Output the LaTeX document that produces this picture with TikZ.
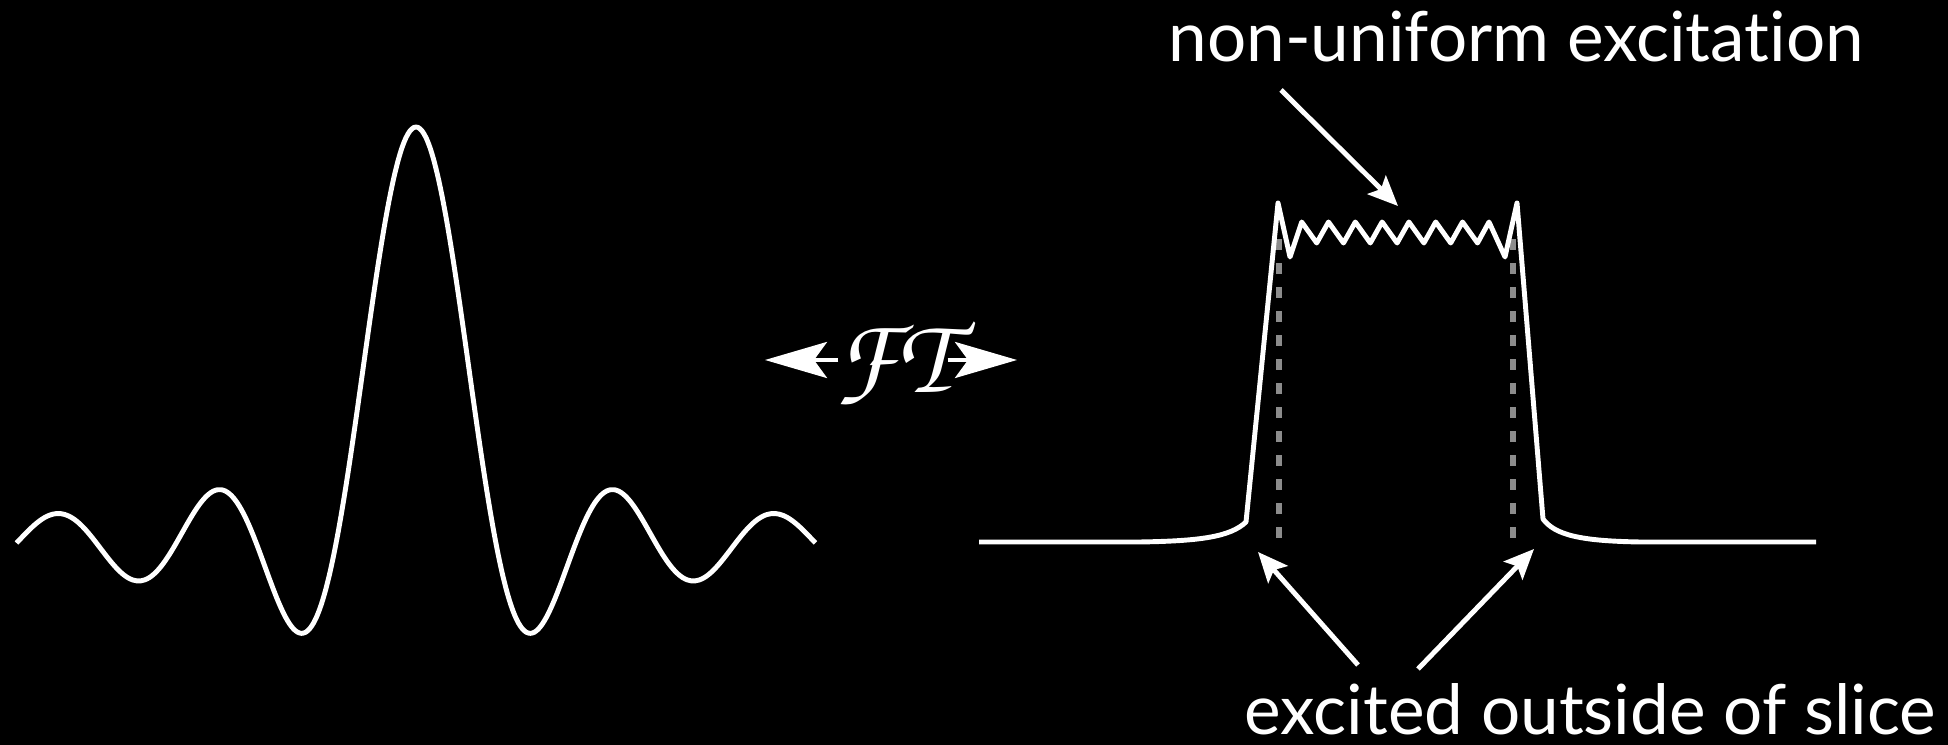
\documentclass[tikz,border=0pt]{standalone}
\usepackage{fontspec}
\setmainfont{Lato}[Ligatures=NoCommon]
\usetikzlibrary{arrows.meta}

\definecolor{dashgray}{RGB}{140,140,140}

\begin{document}
\begin{tikzpicture}[every node/.style={text=white, font=\fontsize{19.7}{23}\selectfont},
	curve/.style={white, line width=1.4pt, line join=round},
	pointer/.style={white, line width=1.4pt, -{Stealth[length=3mm, width=2.6mm, inset=0.6mm]}},
	ftarrow/.style={white, line width=1.2pt, -{Stealth[length=6.2mm, width=3.6mm, inset=1.3mm]}},
	slicemark/.style={dashgray, line width=1.7pt, dash pattern=on 1.1mm off 1.3mm}]
	\fill[black] (0,0) rectangle (19.48,7.45);
	\useasboundingbox (0,0) rectangle (19.48,7.45);
	\begin{scope}
		\draw[curve, domain=-5:5, samples=200, smooth] plot ({4.16+0.799*\x}, {2.02+4.16*sin(180*\x)/(pi*\x)});
	\end{scope}
	\node[inner sep=0, font=\fontencoding{OT1}\fontfamily{pzc}\fontseries{mb}\fontshape{it}\fontsize{31}{34}\selectfont] (ft) at (8.93,3.82) {FT};
	\coordinate (ftleft) at (7.65,3.85);
	\coordinate (ftright) at (10.17,3.85);
	\draw[ftarrow] ([xshift=0.5mm]ft.west |- ftleft) -- (ftleft);
	\draw[ftarrow] ([xshift=-0.5mm]ft.east |- ftright) -- (ftright);
	\begin{scope}
		\draw[slicemark] (12.79,2.07) -- (12.79,5.10);
		\draw[slicemark] (15.13,2.07) -- (15.13,5.10);
		\draw[curve] (9.79,2.03) -- (11.4,2.03) .. controls (12.0,2.04) and (12.3,2.08) .. (12.46,2.23) -- (12.78,5.42) -- (12.90,4.88)
			\foreach \k in {0,...,6} { -- ({13.017+0.268*\k},5.23) -- ({13.167+0.268*\k},5.02) }
			-- (14.89,5.23) -- (15.05,4.88) -- (15.17,5.42) -- (15.43,2.26) .. controls (15.55,2.10) and (15.8,2.04) .. (16.4,2.03) -- (18.16,2.03);
	\end{scope}
	\node[anchor=base west, inner sep=0] (excite) at (11.68,6.83) {non-uniform excitation};
	\node[anchor=base west, inner sep=0] (outside) at (12.44,0.10) {excited outside of slice};
	\coordinate (excitetail) at (12.81,6.55);
	\coordinate (zigzag) at (13.98,5.39);
	\coordinate (lefttail) at (13.58,0.80);
	\coordinate (righttail) at (14.18,0.76);
	\coordinate (leftedge) at (12.58,1.93);
	\coordinate (rightedge) at (15.34,1.96);
	\draw[pointer] (excitetail) -- (zigzag);
	\draw[pointer] (lefttail) -- (leftedge);
	\draw[pointer] (righttail) -- (rightedge);
\end{tikzpicture}
\end{document}
